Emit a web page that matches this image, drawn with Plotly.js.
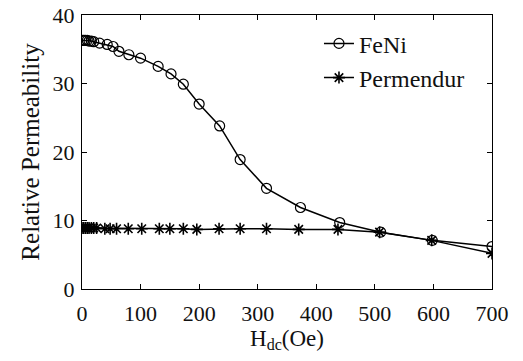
<!DOCTYPE html>
<html><head><meta charset="utf-8">
<script src="https://cdn.plot.ly/plotly-3.0.1.min.js"></script>
<style>html,body{margin:0;padding:0;background:#fff}</style>
</head><body>
<div id="chart" style="width:523px;height:361px"></div>
<script>
var fenI_H = [0, 3, 6, 9, 12, 16, 20, 30, 43, 53, 63, 80, 100, 130, 152, 173, 200, 235, 270, 315, 373, 440, 510, 598, 700];
var fenI_mu = [36.3, 36.3, 36.3, 36.3, 36.2, 36.2, 36.1, 35.9, 35.7, 35.4, 34.7, 34.2, 33.7, 32.5, 31.4, 29.9, 27.0, 23.8, 18.9, 14.7, 11.9, 9.7, 8.3, 7.1, 6.2];
var perm_H = [0, 3, 6, 9, 12, 16, 20, 25, 39, 48, 59, 79, 102, 132, 150, 173, 196, 234, 270, 315, 370, 437, 508, 597, 700];
var perm_mu = [8.9, 8.9, 8.9, 8.9, 8.9, 8.9, 8.9, 8.9, 8.8, 8.8, 8.8, 8.8, 8.8, 8.8, 8.8, 8.8, 8.7, 8.8, 8.8, 8.8, 8.7, 8.7, 8.3, 7.1, 5.2];
var xTicks = [0, 100, 200, 300, 400, 500, 600, 700];
var yTicks = [0, 10, 20, 30, 40];

var FAM = 'Times New Roman, Liberation Serif, serif';
function f(size) { return {family: FAM, size: size, color: '#111'}; }
var traces = [
  {x: fenI_H, y: fenI_mu, name: 'FeNi', mode: 'lines+markers', type: 'scatter',
   line: {color: '#000', width: 1.5},
   marker: {symbol: 'circle-open', size: 10, color: '#000', line: {width: 1.2, color: '#000'}}},
  {x: perm_H, y: perm_mu, name: 'Permendur', mode: 'lines+markers', type: 'scatter',
   line: {color: '#000', width: 1.5},
   marker: {symbol: 'asterisk-open', size: 10, color: '#000', line: {width: 1.6, color: '#000'}}}
];
var axisCommon = {showline: true, linecolor: '#000', linewidth: 1.2, mirror: 'ticks', ticks: 'inside',
  ticklen: 5, tickcolor: '#000', showgrid: false, zeroline: false, tickfont: f(22)};
var layout = {
  width: 523, height: 361,
  margin: {l: 82, r: 31, t: 15, b: 72},
  paper_bgcolor: '#fff', plot_bgcolor: '#fff',
  font: f(22),
  showlegend: true,
  legend: {x: 0.578, y: 0.977, xanchor: 'left', yanchor: 'top', bgcolor: 'rgba(0,0,0,0)',
    font: f(24), tracegroupgap: 0},
  xaxis: Object.assign({}, axisCommon, {range: [0, 700], tickvals: xTicks, ticktext: xTicks.map(String),
    ticklabelstandoff: 4,
    title: {text: 'H<sub>dc</sub>(Oe)', font: f(23), standoff: 2}}),
  yaxis: Object.assign({}, axisCommon, {range: [0, 40], tickvals: yTicks, ticktext: yTicks.map(String),
    ticklabelstandoff: 2,
    title: {text: 'Relative Permeability', font: f(25), standoff: 5}})
};
Plotly.newPlot('chart', traces, layout, {staticPlot: true, displayModeBar: false});
</script>
</body></html>
